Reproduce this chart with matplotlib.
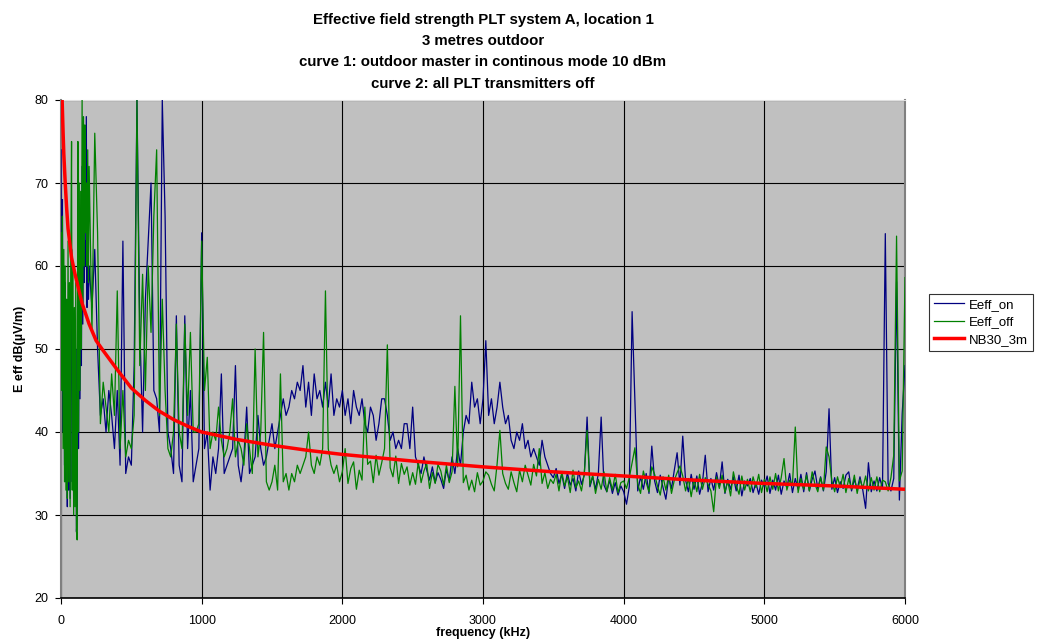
import numpy as np
import matplotlib
matplotlib.use("Agg")
import matplotlib.pyplot as plt

plt.rcParams['font.family'] = ['Liberation Sans', 'DejaVu Sans']

# frequency sweep (kHz): fine steps below 200 kHz, 20 kHz steps above
freq = np.concatenate([np.arange(0, 200, 5), np.arange(200, 6001, 20)])

# Eeff_on, dB(uV/m)
eeff_on = [
    74, 48, 68, 40, 60, 36, 58, 34, 52, 31, 46, 33, 55, 32, 50, 62, 34, 52, 31, 48,
    33, 50, 28, 30, 65, 38, 62, 44, 64, 48, 72, 53, 70, 58, 63, 60, 78, 55, 70, 56,
    60, 55, 62, 50, 42,   44, 40, 45, 42, 38,   45, 36, 63, 35, 37,   36, 48, 80, 53, 40,
    56, 63, 70, 45, 44,   40, 80, 66, 40, 38,   35, 54, 36, 34, 54,   38, 45, 34, 36, 38,
    64, 38, 40, 33, 37,   35, 38, 47, 35, 36,   37, 38, 48, 36, 34,   37, 43, 35, 36, 37,
    42, 38, 36, 37, 39,   41, 38, 40, 42, 44,   42, 43, 45, 44, 46,   45, 48, 43, 46, 42,
    47, 44, 45, 43, 46,   43, 47, 42, 44, 43,
    45, 42, 44, 41, 45,   43, 42, 44, 41, 40,   43, 42, 39, 41, 44,   44, 42, 39, 40, 38,
    39, 38, 41, 41, 38,   43, 37, 36, 35, 37,   35.4, 34.2, 35.8, 33.9, 35.1,
    34.3, 33.2, 35.5, 34.1, 37,   35, 38, 36, 40, 42,   41, 46, 43, 44, 41,
    44, 51, 42, 44, 41,   43, 46, 43, 41, 42,   39, 38, 40, 39, 41,   38, 39, 37, 38, 37,
    36, 39, 37, 36, 35,   34.5, 35.6, 33.8, 34.9, 33.2,   35.1, 33.6, 34.4, 32.9, 35.3,
    33.7, 34.8, 41.8, 33.4, 34.6,   33.1, 35.0, 41.8, 33.6, 32.8,   34.2, 32.6, 33.9, 32.4, 33.5,
    32.8, 31.3, 33.4, 54.5, 43.5,   32.9, 34.6, 33.1, 35.0, 32.6,   38.3, 34.1, 32.7, 34.8, 33.3,
    31.9, 34.5, 33.2, 35.4, 37.5,   33.6, 39.5, 34.2, 32.8, 34.9,   33.1, 34.7, 32.5, 33.9, 37.2,
    32.8, 34.4, 33.0, 35.1, 33.4,   36.4, 32.6, 34.3, 33.1, 34.6,   32.9, 34.8, 32.3, 34.1, 33.5,
    34.4, 32.7, 33.9, 32.5, 34.2,
    33.4, 34.7, 32.6, 34.2, 33.0,   34.8, 32.5, 34.1, 33.3, 35.0,   32.7, 34.4, 33.1, 34.9, 32.8,
    35.1, 32.9, 34.3, 35.3, 33.2,   34.6, 32.9, 35.2, 42.8, 33.1,   34.5, 32.7, 34.0, 33.2, 34.8,
    35.2, 32.9, 34.3, 33.1, 34.6,   33.0, 30.8, 36.3, 32.8, 34.1,   32.9, 34.5, 33.2, 63.9, 33.8,
    32.9, 34.4, 58.1, 31.8, 42.2,
    48.0,
]

# Eeff_off, dB(uV/m)
eeff_off = [
    64, 45, 66, 38, 62, 34, 60, 33, 56, 32, 63, 34, 58, 31, 62, 75, 33, 60, 30, 55,
    31, 58, 28, 27, 75, 40, 70, 45, 69, 50, 80, 55, 78, 60, 77, 64, 70, 60, 74, 58,
    72, 52, 76, 64, 41,   46, 43, 40, 47, 42,   57, 38, 45, 37, 39,   38, 42, 80, 48, 59,
    45, 60, 52, 66, 74,   42, 56, 45, 38, 37,   40, 53, 40, 38, 53,   42, 52, 40, 40, 41,
    63, 45, 49, 38, 40,   39, 43, 39, 37, 38,   40, 44, 37, 39, 38,   36, 41, 38, 35, 50,
    37, 40, 52, 34, 33,   34, 36, 33, 47, 34,   35, 33, 35, 34, 36,   35, 36, 37, 40, 36,
    35, 37, 36, 38, 57,   38, 36, 35, 36, 34,
    35.2, 38, 33.8, 35.6, 36.4,   33.1, 35.4, 34.2, 43, 36.1,   36.5, 33.9, 37.2, 34.8, 36.3,
    38, 50.5, 35.7, 34.6, 37.1,   33.8, 36.2, 34.9, 35.8, 33.6,   35.1, 33.7, 36.4, 33.9, 35.3,
    36.2, 33.2, 35.1, 33.8, 36.1,   35.3, 33.6, 36.0, 33.9, 35.2,   45.5, 35.8, 54, 33.9, 34.8,
    33.0, 34.2, 32.8, 35.1, 33.6,
    34.1, 35.2, 34.8, 33.7, 32.9,   36.1, 40.2, 35.0, 33.8, 33.1,   35.2, 33.9, 32.8, 35.4, 34.0,
    36.0, 34.8, 33.6, 36.1, 34.7,   38.0, 33.8, 35.1, 33.2, 34.3,   33.8, 34.9, 32.9, 35.2, 33.5,
    34.6, 32.7, 35.4, 33.3, 34.1,   32.9, 35.0, 40.2, 33.6, 34.8,   32.6, 34.3, 33.1, 35.2, 32.8,
    34.5, 33.0, 34.9, 32.7, 33.9,
    34.1, 33.2, 34.5, 36.3, 38.1,   33.7, 32.6, 35.3, 33.9, 32.8,   35.8, 34.9, 33.5, 32.4, 34.6,
    33.0, 34.8, 32.6, 34.2, 35.1,   35.9, 34.7, 32.9, 34.4, 32.2,   34.3, 32.8, 34.9, 33.1, 34.5,
    33.7, 32.9, 30.4, 34.6, 33.2,   34.8, 32.7, 34.1, 32.3, 35.2,   33.6, 32.5, 34.7, 33.0, 34.3,
    32.8, 34.6, 33.3, 34.9, 32.7,
    34.3, 32.8, 34.6, 33.1, 35.0,   32.9, 34.5, 36.8, 33.0, 34.2,   33.6, 40.6, 32.7, 34.4, 33.1,
    34.8, 32.9, 35.2, 33.7, 32.8,   34.5, 33.0, 38.2, 37.0, 34.1,   32.8, 34.6, 33.3, 34.9, 32.7,
    34.4, 33.1, 34.8, 32.6, 34.3,   33.2, 34.7, 32.9, 34.5, 33.0,   34.6, 32.8, 34.2, 34.0, 32.9,
    34.5, 37.2, 63.6, 34.1, 35.3,
    58.6,
]

# NB30 limit for 3 m
nb30_freq = [8, 15, 20, 30, 40, 50, 75, 100, 150, 200, 250, 300, 400, 500, 600, 700,
             800, 900, 1000, 1250, 1500, 1750, 2000, 2500, 3000, 3500, 4000, 4500,
             5000, 5500, 6000]
nb30_val = [80, 76, 73.5, 70, 67, 64.5, 61, 59, 55.5, 53, 51, 49.8, 47.5, 45.3, 43.8,
            42.5, 41.5, 40.7, 40.0, 39.1, 38.4, 37.8, 37.3, 36.5, 35.8, 35.2, 34.7,
            34.2, 33.8, 33.5, 33.1]

title = ("Effective field strength PLT system A, location 1\n"
         "3 metres outdoor\n"
         "curve 1: outdoor master in continous mode 10 dBm\n"
         "curve 2: all PLT transmitters off")


def main():
    fig = plt.figure(figsize=(10.38, 6.41), dpi=100)
    ax = fig.add_axes([61 / 1038, 43 / 641, 844 / 1038, 498 / 641])
    ax.set_facecolor('#c0c0c0')

    n = min(len(freq), len(eeff_on), len(eeff_off))
    ax.plot(freq[:n], eeff_on[:n], color='#000080', lw=0.9, label='Eeff_on', zorder=3)
    ax.plot(freq[:n], eeff_off[:n], color='#008000', lw=0.9, label='Eeff_off', zorder=4)
    ax.plot(nb30_freq, nb30_val, color='#ff0000', lw=2.5, label='NB30_3m', zorder=5)

    ax.set_xlim(0, 6000)
    ax.set_ylim(20, 80)
    ax.set_xticks(range(0, 6001, 1000))
    ax.set_yticks(range(20, 81, 10))
    ax.grid(True, color='black', lw=0.8, zorder=1)
    ax.set_axisbelow(True)
    ax.tick_params(direction='out', length=4, width=0.8, labelsize=9)
    ax.tick_params(axis='x', pad=8)
    ax.tick_params(axis='y', pad=5)

    for side in ['left', 'right']:
        ax.spines[side].set_color('#808080')
        ax.spines[side].set_linewidth(1.5)
    ax.spines['top'].set_color('#e0e0e0')
    ax.spines['bottom'].set_color('black')
    ax.spines['bottom'].set_linewidth(1.2)

    ax.set_xlabel('frequency (kHz)', fontsize=9, fontweight='bold', labelpad=0)
    ax.set_ylabel('E eff dB(\u00b5V/m)', fontsize=9, fontweight='bold', labelpad=6)
    ax.set_title(title, fontsize=10.8, fontweight='bold', linespacing=1.66, pad=9)

    leg = fig.legend(loc='upper left', bbox_to_anchor=(929 / 1038, 1 - 294 / 641),
                     fontsize=9.5, frameon=True, fancybox=False, handlelength=2.3,
                     handletextpad=0.4, labelspacing=0.4, borderpad=0.35,
                     borderaxespad=0)
    leg.get_frame().set_edgecolor('black')
    leg.get_frame().set_linewidth(0.8)

    fig.savefig('out.png', dpi=100)


if __name__ == "__main__":
    main()
